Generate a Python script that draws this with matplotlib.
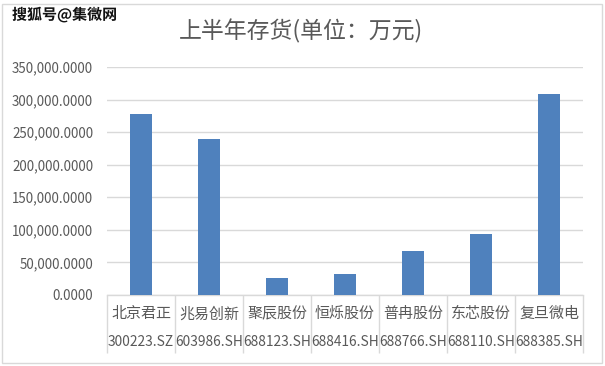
import matplotlib
matplotlib.use("Agg")
import matplotlib.pyplot as plt
import matplotlib.patheffects as pe
from matplotlib.patches import Rectangle
from matplotlib.ticker import FuncFormatter, FixedLocator

plt.rcParams['font.family'] = ['Noto Sans CJK SC', 'DejaVu Sans']

names = ["北京君正", "兆易创新", "聚辰股份", "恒烁股份", "普冉股份", "东芯股份", "复旦微电"]
codes = ["300223.SZ", "603986.SH", "688123.SH", "688416.SH", "688766.SH", "688110.SH", "688385.SH"]
inventory = [278000, 239300, 26200, 32400, 67900, 94200, 308800]
yticks = [0, 50000, 100000, 150000, 200000, 250000, 300000, 350000]
title = "上半年存货(单位：万元)"
watermark = "搜狐号@集微网"

W, H = 605, 366
fig = plt.figure(figsize=(W / 100, H / 100), dpi=100)
ax = fig.add_axes([107 / W, (H - 295) / H, (583 - 107) / W, (295 - 67) / H])

text_col = "#595959"
grid_col = "#d9d9d9"
bar_col = "#4f81bd"

x = list(range(len(names)))
ax.bar(x, inventory, width=0.313, color=bar_col, zorder=3)

ax.set_xlim(-0.5, len(names) - 0.5)
ax.set_ylim(0, 350000)
ax.set_yticks(yticks)
ax.yaxis.set_major_formatter(FuncFormatter(lambda v, p: f"{v:,.4f}"))
ax.tick_params(axis='y', length=0, pad=10, labelsize=9.6, labelcolor=text_col)
ax.grid(axis='y', color=grid_col, linewidth=1, zorder=0)

for s in ['top', 'left', 'right']:
    ax.spines[s].set_visible(False)
ax.spines['bottom'].set_color(grid_col)
ax.spines['bottom'].set_linewidth(1)

ax.set_xticks(x)
ax.set_xticklabels([])
ax.tick_params(axis='x', which='major', length=0)
ax.xaxis.set_minor_locator(FixedLocator([i - 0.5 for i in range(len(names) + 1)]))
ax.tick_params(axis='x', which='minor', length=58 * 72 / 100, width=1, color=grid_col)

trans = ax.get_xaxis_transform()
ah = 295 - 67
for i, (n, c) in enumerate(zip(names, codes)):
    ax.text(i, (295 - 314) / ah, n, transform=trans, ha='center', va='center',
            fontsize=10.8, color=text_col)
    ax.text(i, (295 - 342) / ah, c, transform=trans, ha='center', va='center',
            fontsize=9.9, color=text_col)

fig.text(301 / W, 1 - 31 / H, title, ha='center', va='center', fontsize=16.5, color=text_col)

fig.text(12 / W, 1 - 15 / H, watermark, ha='left', va='center', fontsize=10.8,
         fontweight='bold', color='#111111',
         path_effects=[pe.withStroke(linewidth=2, foreground='white')])

fig.patches.append(Rectangle((2 / W, 1 - 363 / H), 600 / W, 359 / H, transform=fig.transFigure,
                             fill=False, edgecolor=grid_col, linewidth=1))

fig.savefig("out.png", dpi=100)
